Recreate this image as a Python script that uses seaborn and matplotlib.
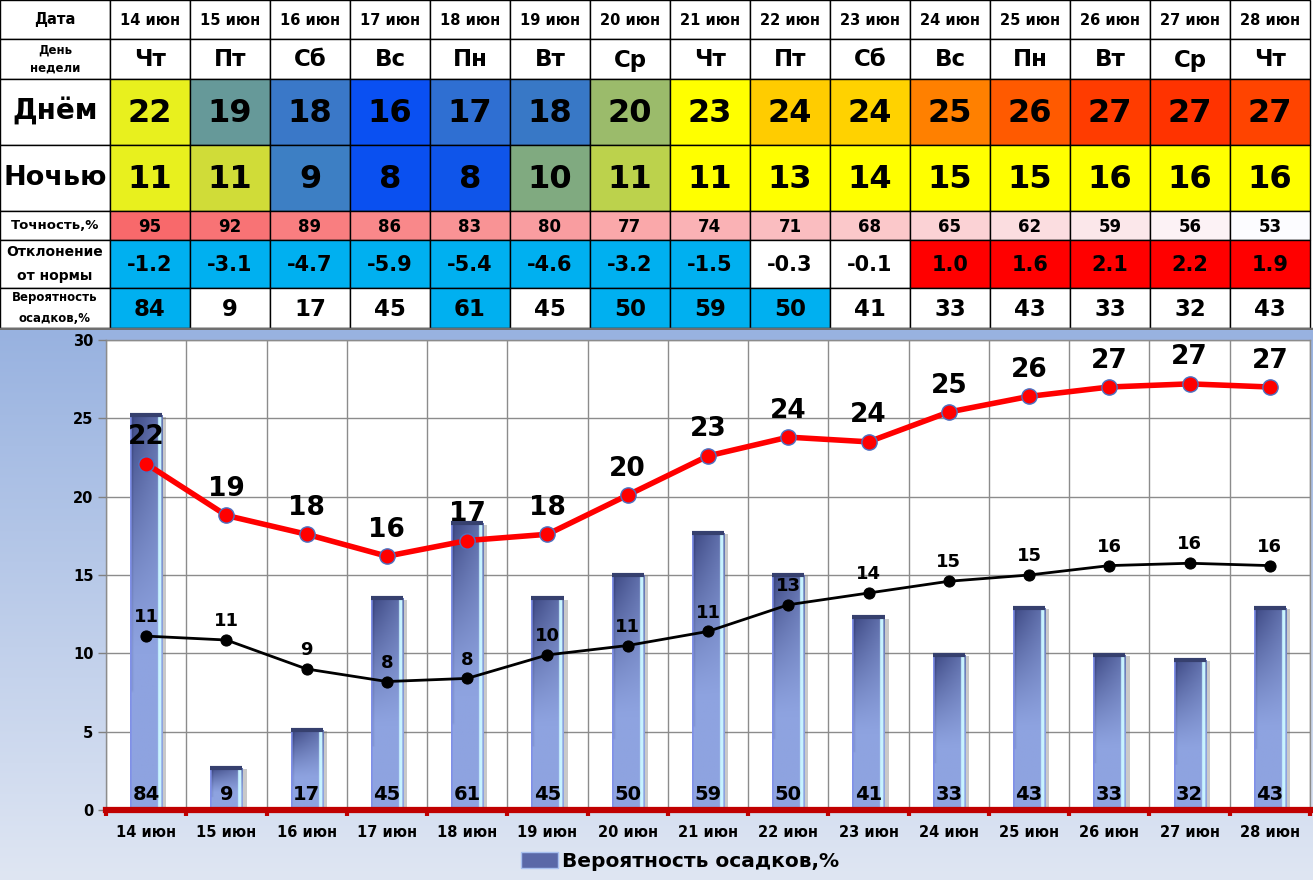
import numpy as np
import matplotlib
matplotlib.use("Agg")
import matplotlib.pyplot as plt
import matplotlib.patheffects as pe
import seaborn as sns
from matplotlib.patches import Rectangle, Patch
from matplotlib.colors import LinearSegmentedColormap, to_rgb
from matplotlib.ticker import FixedLocator

# ---------------- data ----------------
dates = ["14 июн", "15 июн", "16 июн", "17 июн", "18 июн", "19 июн", "20 июн", "21 июн",
         "22 июн", "23 июн", "24 июн", "25 июн", "26 июн", "27 июн", "28 июн"]
weekdays = ["Чт", "Пт", "Сб", "Вс", "Пн", "Вт", "Ср", "Чт", "Пт", "Сб", "Вс", "Пн", "Вт", "Ср", "Чт"]
day_temp = [22, 19, 18, 16, 17, 18, 20, 23, 24, 24, 25, 26, 27, 27, 27]
night_temp = [11, 11, 9, 8, 8, 10, 11, 11, 13, 14, 15, 15, 16, 16, 16]
day_line = [22.1, 18.8, 17.6, 16.2, 17.2, 17.6, 20.1, 22.6, 23.8, 23.5, 25.4, 26.4, 27.0, 27.2, 27.0]
night_line = [11.1, 10.85, 9.0, 8.2, 8.4, 9.9, 10.5, 11.4, 13.1, 13.85, 14.6, 15.0, 15.6, 15.75, 15.6]
accuracy = [95, 92, 89, 86, 83, 80, 77, 74, 71, 68, 65, 62, 59, 56, 53]
deviation = [-1.2, -3.1, -4.7, -5.9, -5.4, -4.6, -3.2, -1.5, -0.3, -0.1, 1.0, 1.6, 2.1, 2.2, 1.9]
precip = [84, 9, 17, 45, 61, 45, 50, 59, 50, 41, 33, 43, 33, 32, 43]
row_titles = ["Дата", "День\nнедели", "Днём", "Ночью", "Точность,%", "Отклонение\nот нормы",
              "Вероятность\nосадков,%"]
legend_label = "Вероятность осадков,%"

# ---------------- styles ----------------
day_colors = ["#e8f01e", "#669999", "#3a78c8", "#0a50f2", "#2f6fd2", "#3878c6", "#9bbb6b",
              "#ffff00", "#ffcc00", "#ffd200", "#ff8000", "#ff5a00", "#ff3c00", "#ff3300", "#ff4400"]
night_colors = ["#e8f01e", "#d0dc38", "#3d7fc4", "#0a50f0", "#0f55ea", "#80aa80", "#bcd24c",
                "#ffff00", "#ffff00", "#ffff00", "#ffff00", "#ffff00", "#ffff00", "#ffff00", "#ffff00"]
acc_cmap = LinearSegmentedColormap.from_list("acc", ["#fcfcff", "#f8696b"])

sns.set_theme(style="white")
plt.rcParams["font.family"] = ["DejaVu Sans"]
plt.rcParams["font.weight"] = "bold"
plt.rcParams["text.color"] = "black"
plt.rcParams["axes.labelcolor"] = "black"
plt.rcParams["xtick.color"] = "black"
plt.rcParams["ytick.color"] = "black"

fig = plt.figure(figsize=(13.13, 8.8), dpi=100)
fig.patch.set_facecolor("white")

# ---------------- background gradient of the chart region ----------------
ax_bg = fig.add_axes([0, 0, 1, 550 / 880])
ax_bg.set_zorder(-10)
top_c = np.array(to_rgb("#98b2e0"))
bot_c = np.array(to_rgb("#dfe6f3"))
tt = np.linspace(0, 1, 256)[:, None]
grad_bg = (top_c[None, :] * (1 - tt) + bot_c[None, :] * tt)[:, None, :]
ax_bg.imshow(grad_bg, aspect="auto", extent=(0, 1, 0, 1), interpolation="bicubic")
ax_bg.set_axis_off()

# ---------------- table ----------------
ncol = len(dates)
hdr_w = 110 / 80
ax_t = fig.add_axes([0, 550 / 880, 1, 330 / 880])
ax_t.set_xlim(-hdr_w, 1203 / 80)
row_h = [39, 40, 66, 66, 29, 48, 40]
edges = np.concatenate([[0], np.cumsum(row_h)])
ax_t.set_ylim(330, 0)
ax_t.set_axis_off()

def dev_color(v):
    if v <= -1:
        return "#00b0f0"
    if v >= 0.5:
        return "#ff0000"
    return "#ffffff"

def pr_color(v):
    return "#00b0f0" if v >= 50 else "#ffffff"

amin, amax = min(accuracy), max(accuracy)
rows = [
    (dates, ["#ffffff"] * ncol, 10.5),
    (weekdays, ["#ffffff"] * ncol, 16.5),
    ([str(v) for v in day_temp], day_colors, 23),
    ([str(v) for v in night_temp], night_colors, 23),
    ([str(v) for v in accuracy], [acc_cmap((v - amin) / (amax - amin)) for v in accuracy], 12),
    ([f"{v:.1f}" for v in deviation], [dev_color(v) for v in deviation], 15),
    ([str(v) for v in precip], [pr_color(v) for v in precip], 16.5),
]
title_sizes = [10.5, 8.5, 20, 19.5, 9.5, 10, 8.5]
title_ls = [1.2, 1.5, 1.2, 1.2, 1.2, 1.9, 1.9]

for r, (texts, cols, fs) in enumerate(rows):
    y0, h = edges[r], row_h[r]
    ax_t.add_patch(Rectangle((-hdr_w, y0), hdr_w, h, facecolor="white", edgecolor="black", lw=1))
    ax_t.text(-hdr_w / 2, y0 + h / 2, row_titles[r], ha="center", va="center",
              fontsize=title_sizes[r], fontweight="bold", linespacing=title_ls[r], color="black")
    for i in range(ncol):
        ax_t.add_patch(Rectangle((i, y0), 1, h, facecolor=cols[i], edgecolor="black", lw=1))
        ax_t.text(i + 0.5, y0 + h / 2 + 1, texts[i], ha="center", va="center",
                  fontsize=fs, fontweight="bold", color="black")
ax_t.axhline(329, color="#6f6f6f", lw=2.5)

# ---------------- chart ----------------
axl = fig.add_axes([106 / 1313, 70 / 880, 1204 / 1313, 470 / 880])
axb = axl.twinx()
axb.set_zorder(0)
axl.set_zorder(1)
axl.patch.set_visible(False)
axb.patch.set_visible(True)
axb.set_facecolor("white")

idx = np.arange(ncol)

# bars (precip probability, 0-100 scale)
sns.barplot(x=dates, y=precip, ax=axb, color="#8da2df", width=0.4, saturation=1,
            edgecolor="none")
axb.set_ylim(0, 100)
axb.set_xlim(-0.5, ncol - 0.5)

# bar gradient fill
H, W = 120, 60
hx = np.linspace(0, 1, W)[None, :]
vy = np.linspace(0, 1, H)[:, None]  # 0 = bottom, 1 = top
light = np.array(to_rgb("#8ea3e0"))
dark = np.array(to_rgb("#3c4782"))
mix = np.clip((vy - 0.4) / 0.6, 0, 1) ** 1.2 * (0.5 + 0.5 * (1 - hx))
mix = np.clip(mix + 0.3 * np.clip((0.12 - hx) / 0.12, 0, 1) * (vy > 0.3), 0, 1)
img = light[None, None, :] * (1 - mix[..., None]) + dark[None, None, :] * mix[..., None]
strip = (hx >= 0.86) & (hx <= 0.95)
img[np.broadcast_to(strip, (H, W))] = to_rgb("#c8f4ff")
edge_l = hx <= 0.04
img[np.broadcast_to(edge_l, (H, W))] = to_rgb("#8090e8")

for p in list(axb.patches):
    x0, w, h = p.get_x(), p.get_width(), p.get_height()
    p.set_path_effects([pe.SimplePatchShadow(offset=(3, -1), shadow_rgbFace="#666666", alpha=0.35),
                        pe.Normal()])
    im = axb.imshow(img, extent=(x0, x0 + w, 0, h), origin="lower", aspect="auto",
                    interpolation="bilinear", zorder=p.get_zorder() + 0.1)
    im.set_clip_path(p)
    axb.plot([x0, x0 + w], [h, h], color="#36406e", lw=3, solid_capstyle="butt",
             zorder=p.get_zorder() + 0.2)

axb.set_ylim(0, 100)
axb.set_xlim(-0.5, ncol - 0.5)
axb.set_xlabel("")
axb.set_ylabel("")

for i, v in enumerate(precip):
    axb.annotate(str(v), (i, 0), xytext=(0, 7), textcoords="offset points", ha="center",
                 va="baseline", fontsize=14, fontweight="bold", color="black", zorder=5)

# lines
sns.lineplot(x=idx, y=day_line, ax=axl, color="#ff0000", lw=4, marker="o", markersize=11,
             markeredgecolor="#4a72c4", markeredgewidth=1, zorder=4)
sns.lineplot(x=idx, y=night_line, ax=axl, color="black", lw=2, marker="o", markersize=8,
             markeredgecolor="black", zorder=4)
for i, (y, lab) in enumerate(zip(day_line, day_temp)):
    axl.annotate(str(lab), (i, y), xytext=(0, 14), textcoords="offset points", ha="center",
                 va="baseline", fontsize=19, fontweight="bold", color="black")
for i, (y, lab) in enumerate(zip(night_line, night_temp)):
    axl.annotate(str(lab), (i, y), xytext=(0, 10), textcoords="offset points", ha="center",
                 va="baseline", fontsize=13, fontweight="bold", color="black")

axl.set_ylim(0, 30)
axl.set_xlim(-0.5, ncol - 0.5)
axl.set_yticks(range(0, 31, 5))
axl.set_xticks(idx)
axl.set_xticklabels(dates)
axl.xaxis.set_minor_locator(FixedLocator(np.arange(-0.5, ncol, 1)))
axl.set_xlabel("")
axl.set_ylabel("")
axl.tick_params(axis="y", which="major", left=True, length=6, width=1, color="#808080",
                labelsize=10.5, pad=3, labelcolor="black")
axl.tick_params(axis="x", which="major", bottom=False, length=0, labelsize=10.5, pad=11,
                labelcolor="black")
axl.tick_params(axis="x", which="minor", bottom=True, length=4, width=3, color="#c00000",
                direction="out")
for lab in axl.get_xticklabels() + axl.get_yticklabels():
    lab.set_fontweight("bold")
    lab.set_color("black")
for s in ["top", "right", "left"]:
    axl.spines[s].set_visible(False)
axl.spines["bottom"].set_color("#c00000")
axl.spines["bottom"].set_linewidth(4.5)
axl.spines["bottom"].set_zorder(6)

# grid on the bar axes (behind bars)
axb.xaxis.set_visible(True)
axb.set_yticks(np.linspace(0, 100, 7))
axb.tick_params(axis="y", which="both", left=False, right=False, labelleft=False, labelright=False)
axb.tick_params(axis="x", which="both", bottom=False, top=False, labelbottom=False, labeltop=False)
axb.set_axisbelow(True)
axb.grid(True, which="major", axis="y", color="#8c8c8c", lw=1)
axb.grid(True, which="minor", axis="x", color="#8c8c8c", lw=1)
axb.grid(False, which="major", axis="x")
for s in ["top", "right", "left", "bottom"]:
    axb.spines[s].set_visible(True)
    axb.spines[s].set_color("#8c8c8c")
    axb.spines[s].set_linewidth(1)

# legend
handle = Patch(facecolor="#5a68a8", edgecolor="#a8c0f0", lw=1)
leg = fig.legend(handles=[handle], labels=[legend_label], loc="center",
                 bbox_to_anchor=(0.518, 0.021), frameon=False,
                 prop={"size": 14.5, "weight": "bold"}, handlelength=1.8,
                 handleheight=0.8, handletextpad=0.2)
for t in leg.get_texts():
    t.set_color("black")

fig.savefig("out.png", dpi=100)
